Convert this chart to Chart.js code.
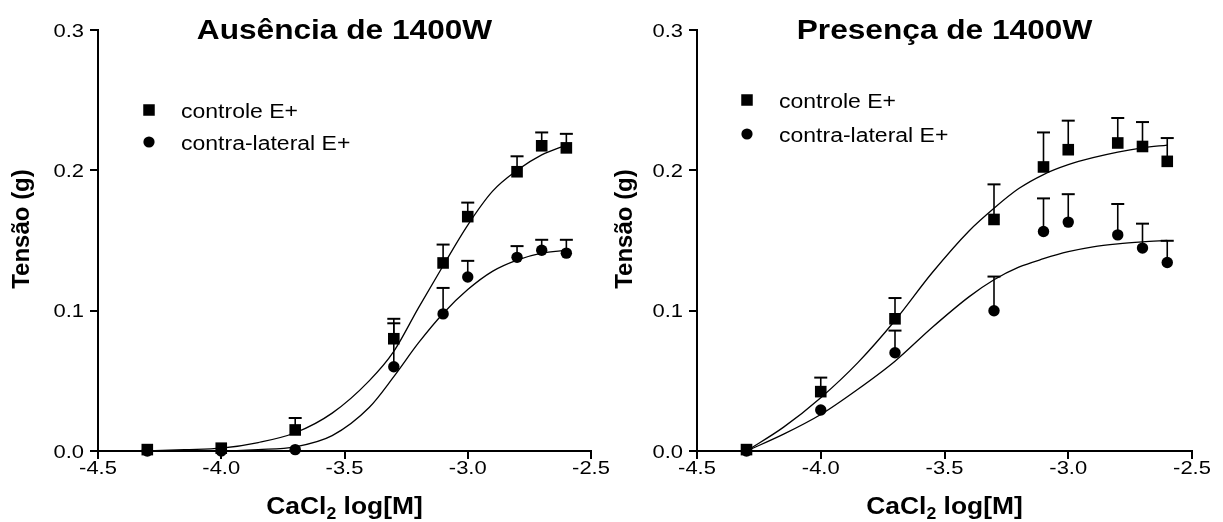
<!DOCTYPE html>
<html><head><meta charset="utf-8">
<script src="https://cdn.jsdelivr.net/npm/chart.js@4"></script>
<style>
html,body{margin:0;padding:0;background:#fff;width:1223px;height:522px;overflow:hidden}
.panel{position:absolute;top:0;height:522px}
#p1{left:0;width:611px}
#p2{left:611px;width:612px}
</style></head><body>
<div class="panel" id="p1"><canvas id="c1" width="611" height="522"></canvas></div>
<div class="panel" id="p2"><canvas id="c2" width="612" height="522"></canvas></div>
<script>
// ---------- data ----------
const doses = [-4.3, -4.0, -3.7, -3.3, -3.1, -3.0, -2.8, -2.7, -2.6];

const ausControle     = [0.001, 0.002, 0.015, 0.080, 0.134, 0.167, 0.199, 0.2175, 0.216];
const ausControleSem  = [0, 0, 0.0085, 0.0142, 0.0131, 0.010, 0.011, 0.0095, 0.010];
const ausContra       = [0.000, 0.000, 0.001, 0.060, 0.0977, 0.124, 0.138, 0.143, 0.141];
const ausContraSem    = [0, 0, 0, 0.031, 0.0185, 0.0115, 0.008, 0.0075, 0.0095];

const presControle    = [0.001, 0.0423, 0.0942, 0.165, 0.2024, 0.2147, 0.2195, 0.217, 0.2064];
const presControleSem = [0, 0.010, 0.0148, 0.025, 0.0246, 0.0207, 0.0178, 0.0174, 0.0166];
const presContra      = [0.000, 0.0292, 0.070, 0.0999, 0.1564, 0.1631, 0.154, 0.1446, 0.1343];
const presContraSem   = [0, 0, 0.0158, 0.0244, 0.0236, 0.0199, 0.022, 0.0174, 0.0155];

// fitted curves
const fitX            = [-4.3, -4.15, -4.0, -3.85, -3.7, -3.55, -3.4, -3.3, -3.2, -3.1, -3.0, -2.9, -2.8, -2.7, -2.6];
const ausControleFit  = [0.000, 0.001, 0.002, 0.006, 0.013, 0.027, 0.050, 0.071, 0.102, 0.132, 0.161, 0.185, 0.200, 0.211, 0.218];
const ausContraFit    = [0.000, 0.000, 0.000, 0.001, 0.003, 0.011, 0.031, 0.053, 0.077, 0.098, 0.115, 0.128, 0.136, 0.141, 0.143];
const presControleFit = [0.000, 0.017, 0.038, 0.063, 0.093, 0.127, 0.157, 0.173, 0.187, 0.197, 0.204, 0.209, 0.213, 0.216, 0.218];
const presContraFit   = [0.000, 0.012, 0.026, 0.044, 0.064, 0.088, 0.110, 0.122, 0.131, 0.137, 0.142, 0.1455, 0.1476, 0.149, 0.150];

const xTicks = [-4.5, -4.0, -3.5, -3.0, -2.5];
const yTicks = [0.0, 0.1, 0.2, 0.3];

const panelTitles = ['Ausência de 1400W', 'Presença de 1400W'];
const legendLabels = ['controle E+', 'contra-lateral E+'];
const yAxisTitle = 'Tensão (g)';
const xAxisTitleParts = ['CaCl', '2', ' log[M]'];

// ---------- layout / style ----------
const FONT = '"Liberation Sans", Arial, Helvetica, sans-serif';
const layouts = [
  {canvas: 'c1', width: 611, left: 98, right: 591, yTitleX: 29,
   leg: {mx: 51, y1: 110, y2: 142, tx: 83}},
  {canvas: 'c2', width: 612, left: 86, right: 581, yTitleX: 21,
   leg: {mx: 50, y1: 100, y2: 134, tx: 82}}
];
const TOP = 30, BOTTOM = 451, H = 522;

function drawStretched(ctx, text, x, y, font, sx, align) {
  ctx.save();
  ctx.font = font;
  const w = ctx.measureText(text).width * sx;
  let x0 = x;
  if (align === 'center') x0 = x - w / 2;
  else if (align === 'right') x0 = x - w;
  ctx.translate(x0, y);
  ctx.scale(sx, 1);
  ctx.textAlign = 'left';
  ctx.textBaseline = 'alphabetic';
  ctx.fillStyle = '#000';
  ctx.fillText(text, 0, 0);
  ctx.restore();
  return w;
}
function measure(ctx, text, font, sx) {
  ctx.save(); ctx.font = font;
  const w = ctx.measureText(text).width * sx;
  ctx.restore(); return w;
}

const errorBars = {
  id: 'errorBars',
  beforeDatasetsDraw(chart, args, opts) {
    const ctx = chart.ctx, xs = chart.scales.x, ys = chart.scales.y;
    ctx.save();
    ctx.strokeStyle = '#000';
    opts.series.forEach(s => {
      doses.forEach((d, i) => {
        if (!s.sem[i]) return;
        const px = xs.getPixelForValue(d);
        const py = ys.getPixelForValue(s.mean[i]);
        const pt = ys.getPixelForValue(s.mean[i] + s.sem[i]);
        ctx.lineWidth = 1.6;
        ctx.beginPath(); ctx.moveTo(px, py); ctx.lineTo(px, pt); ctx.stroke();
        ctx.lineWidth = 2;
        ctx.beginPath(); ctx.moveTo(px - 6.5, pt); ctx.lineTo(px + 6.5, pt); ctx.stroke();
      });
    });
    ctx.restore();
  }
};

const texts = {
  id: 'texts',
  afterDraw(chart, args, opts) {
    const ctx = chart.ctx, ca = chart.chartArea, xs = chart.scales.x, ys = chart.scales.y;
    const L = opts.layout;
    const tickFont = '18px ' + FONT, tsx = 1.22;
    // tick labels
    xs.ticks.forEach(t => {
      drawStretched(ctx, t.value.toFixed(1), xs.getPixelForValue(t.value), ca.bottom + 22.5, tickFont, tsx, 'center');
    });
    ys.ticks.forEach(t => {
      drawStretched(ctx, t.value.toFixed(1), ca.left - 14, ys.getPixelForValue(t.value) + 6.5, tickFont, tsx, 'right');
    });
    // title
    const cx = (ca.left + ca.right) / 2;
    drawStretched(ctx, opts.title, cx, 39, 'bold 28px ' + FONT, 1.13, 'center');
    // x axis title with subscript
    const xf = 'bold 24px ' + FONT, xfs = 'bold 16px ' + FONT, sx = 1.1;
    const w0 = measure(ctx, xAxisTitleParts[0], xf, sx);
    const w1 = measure(ctx, xAxisTitleParts[1], xfs, sx);
    const w2 = measure(ctx, xAxisTitleParts[2], xf, sx);
    let x0 = cx - (w0 + w1 + w2) / 2;
    const base = 514;
    drawStretched(ctx, xAxisTitleParts[0], x0, base, xf, sx, 'left');
    drawStretched(ctx, xAxisTitleParts[1], x0 + w0, base + 5, xfs, sx, 'left');
    drawStretched(ctx, xAxisTitleParts[2], x0 + w0 + w1, base, xf, sx, 'left');
    // y axis title
    ctx.save();
    ctx.translate(L.yTitleX, 229);
    ctx.rotate(-Math.PI / 2);
    drawStretched(ctx, yAxisTitle, 0, 0, 'bold 24px ' + FONT, 1.0, 'center');
    ctx.restore();
    // legend
    const lg = L.leg;
    ctx.save();
    ctx.fillStyle = '#000';
    const mx = ca.left + lg.mx;
    ctx.fillRect(mx - 5.75, lg.y1 - 5.75, 11.5, 11.5);
    ctx.beginPath(); ctx.arc(mx, lg.y2, 5.6, 0, Math.PI * 2); ctx.fill();
    ctx.restore();
    const lf = '20px ' + FONT;
    drawStretched(ctx, legendLabels[0], ca.left + lg.tx, lg.y1 + 7.5, lf, 1.15, 'left');
    drawStretched(ctx, legendLabels[1], ca.left + lg.tx, lg.y2 + 7.5, lf, 1.15, 'left');
  }
};

function makePanel(idx, ctrl, ctrlSem, contra, contraSem, ctrlFit, contraFit) {
  const L = layouts[idx];
  const toPts = (xs, ys) => xs.map((x, i) => ({x: x, y: ys[i]}));
  const axisCommon = {
    grid: {display: true, drawOnChartArea: false, drawTicks: true, tickLength: 8, color: '#000', lineWidth: 2},
    border: {display: true, color: '#000', width: 2},
    ticks: {display: false}
  };
  new Chart(document.getElementById(L.canvas), {
    type: 'scatter',
    data: {
      datasets: [
        {label: legendLabels[0], data: toPts(doses, ctrl), pointStyle: 'rect', pointRadius: 8.2,
         backgroundColor: '#000', borderColor: '#000', borderWidth: 0, clip: false},
        {label: legendLabels[1], data: toPts(doses, contra), pointStyle: 'circle', pointRadius: 5.7,
         backgroundColor: '#000', borderColor: '#000', borderWidth: 0, clip: false},
        {type: 'line', label: 'fit1', data: toPts(fitX, ctrlFit), borderColor: '#000', borderWidth: 1.3,
         pointRadius: 0, cubicInterpolationMode: 'monotone', fill: false, clip: false},
        {type: 'line', label: 'fit2', data: toPts(fitX, contraFit), borderColor: '#000', borderWidth: 1.3,
         pointRadius: 0, cubicInterpolationMode: 'monotone', fill: false, clip: false}
      ]
    },
    options: {
      responsive: false,
      animation: false,
      events: [],
      layout: {padding: {left: 0, top: TOP, right: L.width - L.right, bottom: 0}},
      scales: {
        x: Object.assign({type: 'linear', min: -4.5, max: -2.5,
          afterBuildTicks: s => { s.ticks = xTicks.map(v => ({value: v})); },
          afterFit: s => { s.height = H - BOTTOM; }}, axisCommon),
        y: Object.assign({type: 'linear', min: 0, max: 0.3,
          afterBuildTicks: s => { s.ticks = yTicks.map(v => ({value: v})); },
          afterFit: s => { s.width = L.left; }}, axisCommon)
      },
      plugins: {
        legend: {display: false},
        tooltip: {enabled: false},
        errorBars: {series: [{mean: ctrl, sem: ctrlSem}, {mean: contra, sem: contraSem}]},
        texts: {layout: L, title: panelTitles[idx]}
      }
    },
    plugins: [errorBars, texts]
  });
}

makePanel(0, ausControle, ausControleSem, ausContra, ausContraSem, ausControleFit, ausContraFit);
makePanel(1, presControle, presControleSem, presContra, presContraSem, presControleFit, presContraFit);
</script>
</body></html>
